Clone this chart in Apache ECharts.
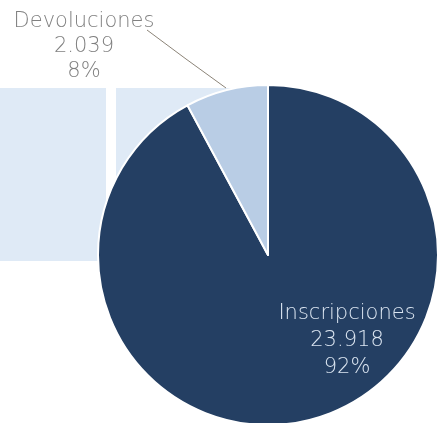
<!DOCTYPE html>
<html>
<head>
<meta charset="utf-8">
<script src="https://cdn.jsdelivr.net/npm/echarts@6/dist/echarts.min.js"></script>
<style>
  html, body { margin: 0; padding: 0; background: #ffffff; }
  #chart { width: 438px; height: 423px; }
</style>
</head>
<body>
<div id="chart"></div>
<script>
// Trámites por tipo
const categories = ['Inscripciones', 'Devoluciones'];
const values = [23918, 2039];
const sliceColors = ['#243f63', '#b9cde5'];

const total = values.reduce((a, b) => a + b, 0);
const fmtNum = v => v.toLocaleString('de-DE');

const chart = echarts.init(document.getElementById('chart'), null, { renderer: 'canvas' });

chart.setOption({
  animation: false,
  backgroundColor: '#ffffff',
  graphic: [
    { type: 'rect', z: -10, shape: { x: 0, y: 88, width: 106, height: 173 }, style: { fill: '#dfeaf6' } },
    { type: 'rect', z: -10, shape: { x: 116, y: 88, width: 150, height: 173 }, style: { fill: '#dfeaf6' } }
  ],
  series: [{
    type: 'pie',
    center: [268, 255],
    radius: 170,
    startAngle: 90,
    clockwise: true,
    z: 2,
    itemStyle: { borderColor: '#ffffff', borderWidth: 2 },
    data: categories.map((name, i) => ({
      name,
      value: values[i],
      itemStyle: { color: sliceColors[i] },
      label: i === 0
        ? { position: 'inside', color: '#dbe5f1', lineHeight: 27 }
        : { position: 'outside', color: '#808080', lineHeight: 25 },
      labelLine: i === 0 ? { show: false } : { show: true, length: 10, length2: 0 }
    })),
    label: {
      show: true,
      fontFamily: 'DejaVu Sans',
      fontWeight: 300,
      fontSize: 21,
      align: 'center',
      formatter: p => p.name + '\n' + fmtNum(p.value) + '\n' + Math.round(p.value / total * 100) + '%'
    },
    labelLine: { lineStyle: { color: '#8c8478', width: 1 }, smooth: false },
    labelLayout: p => p.dataIndex === 0
      ? { x: 347, y: 341, align: 'center', verticalAlign: 'middle' }
      : {
          x: 84, y: 47, align: 'center', verticalAlign: 'middle',
          labelLinePoints: [[226, 88], [186, 59], [147, 30]]
        }
  }]
});
</script>
</body>
</html>
